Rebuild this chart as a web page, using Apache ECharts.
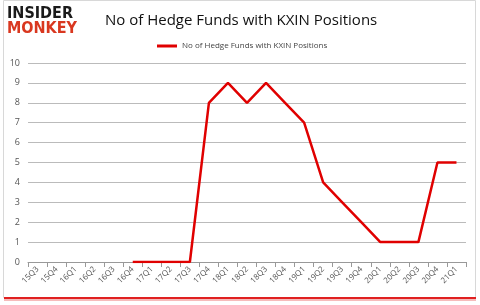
<!DOCTYPE html>
<html><head><meta charset="utf-8">
<script src="https://cdn.jsdelivr.net/npm/echarts@6/dist/echarts.min.js"></script>
<style>html,body{margin:0;padding:0;background:#fff}#c{width:480px;height:305px}</style>
</head><body><div id="c"></div>
<script>
var categories = ['15Q3','15Q4','16Q1','16Q2','16Q3','16Q4','17Q1','17Q2','17Q3','17Q4','18Q1','18Q2','18Q3','18Q4','19Q1','19Q2','19Q3','19Q4','20Q1','20Q2','20Q3','20Q4','21Q1'];
var values = [null,null,null,null,null,0,0,0,0,8,9,8,9,8,7,4,3,2,1,1,1,5,5];
var seriesName = 'No of Hedge Funds with KXIN Positions';
var chart = echarts.init(document.getElementById('c'), null, {renderer:'canvas'});
chart.setOption({
  animation:false,
  backgroundColor:'#fff',
  title:{text:seriesName,left:100,top:8,textStyle:{fontFamily:'Open Sans',fontSize:15,fontWeight:'normal',color:'#111'}},
  legend:{top:37,left:152,itemWidth:20,itemHeight:3,icon:'rect',itemGap:2,
    textStyle:{fontFamily:'Open Sans',fontSize:8,color:'#444'},data:[seriesName]},
  grid:{left:28,right:14,top:63,bottom:43},
  xAxis:{type:'category',data:categories,boundaryGap:true,
    axisLine:{lineStyle:{color:'#999'}},axisTick:{show:true,alignWithLabel:false,lineStyle:{color:'#999'}},
    axisLabel:{rotate:45,fontSize:8,color:'#555',fontFamily:'Open Sans',interval:0,margin:6}},
  yAxis:{type:'value',min:0,max:10,interval:1,
    axisLine:{show:false},axisTick:{show:false},
    splitLine:{lineStyle:{color:'#bbb',width:1}},
    axisLabel:{fontSize:9,color:'#555',fontFamily:'Open Sans',margin:8}},
  series:[{name:seriesName,type:'line',data:values,showSymbol:false,symbol:'none',
    lineStyle:{color:'#e00000',width:2.5},itemStyle:{color:'#e00000'}}],
  graphic:[
    {type:'rect',shape:{x:3.5,y:0.5,width:472,height:297},style:{fill:'none',stroke:'#d8d8d8',lineWidth:1},z:-1},
    {type:'line',shape:{x1:4,y1:298,x2:476,y2:298},style:{stroke:'#e02020',lineWidth:2}},
    {type:'line',shape:{x1:4,y1:300,x2:476,y2:300},style:{stroke:'rgba(230,60,60,0.35)',lineWidth:2}},
    {type:'text',left:7,top:6,style:{text:'INSIDER',font:'900 16px "DejaVu Sans Condensed"',fill:'#1a1a1a'}},
    {type:'text',left:7,top:21,style:{text:'MONKEY',font:'900 16px "DejaVu Sans Condensed"',fill:'#d9371f'}}
  ]
});
</script></body></html>
